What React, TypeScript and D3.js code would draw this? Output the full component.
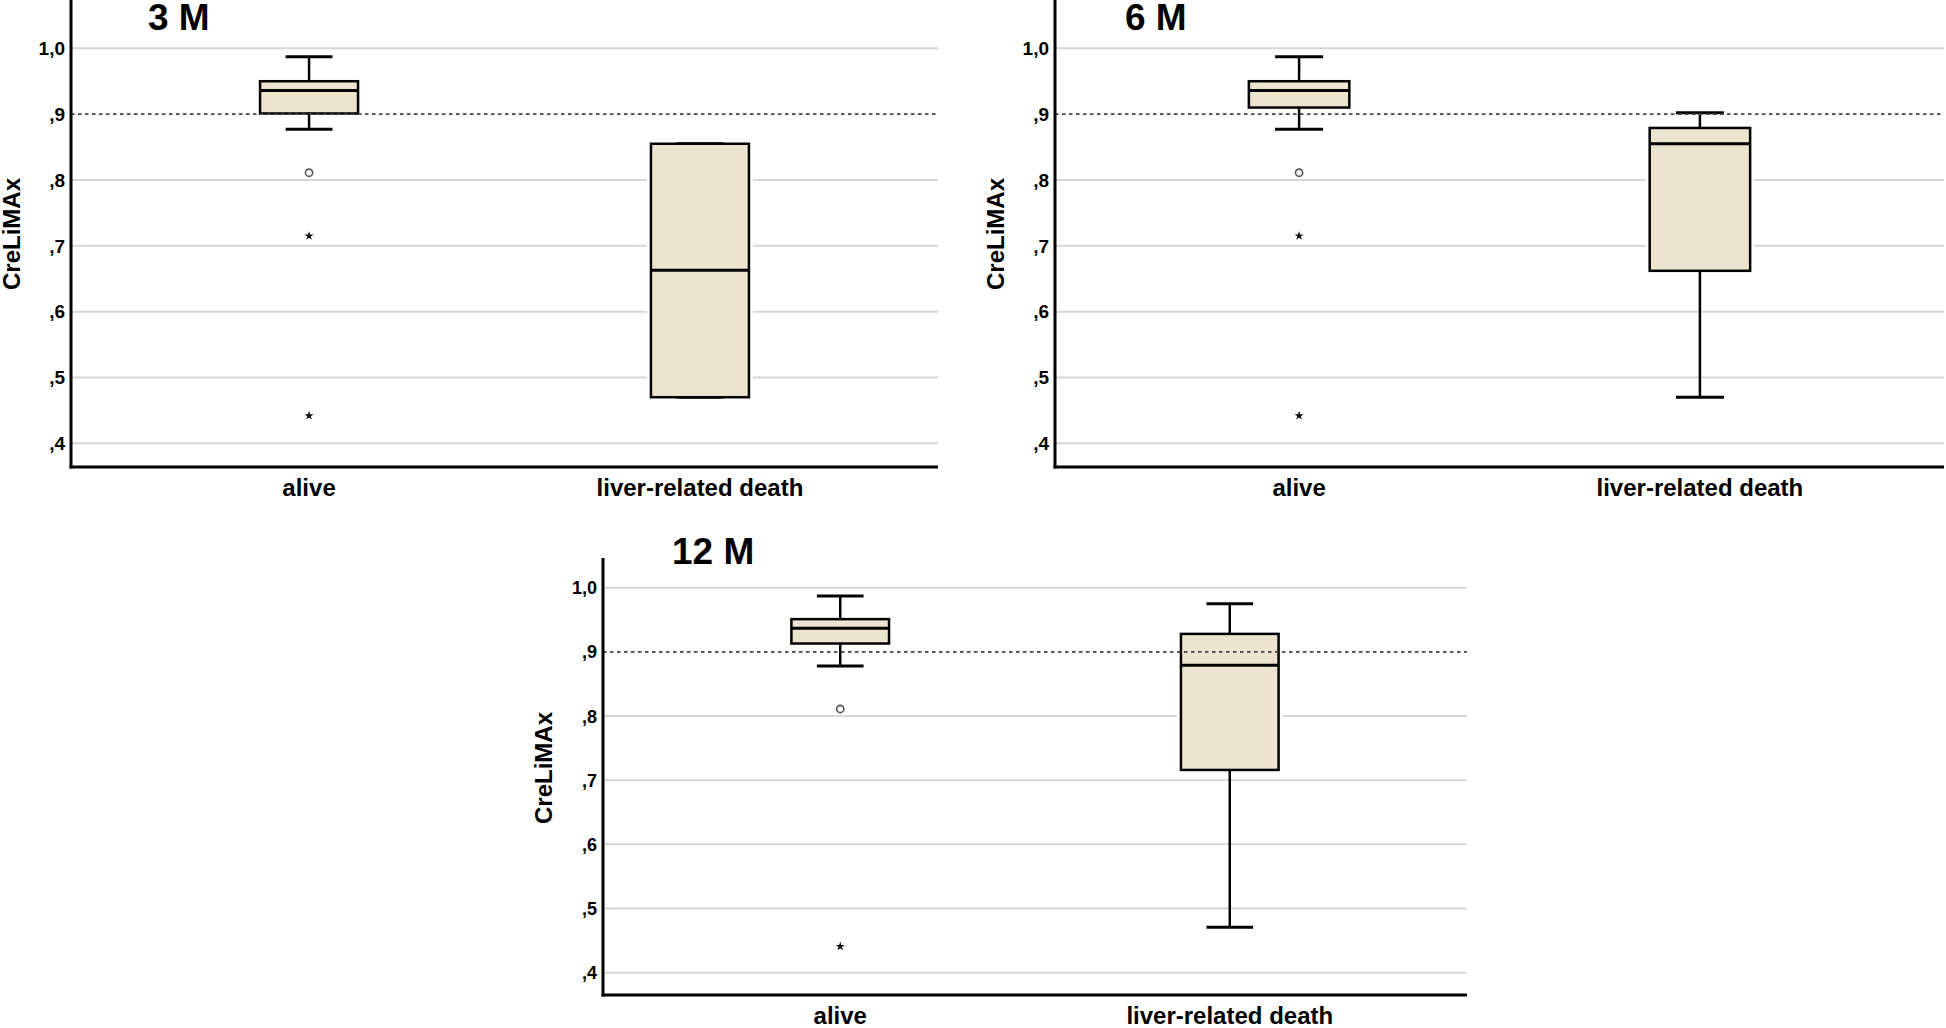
import React, { useEffect } from "react";
import * as d3 from "d3";

// ---------- data ----------
const categories = ["alive", "liver-related death"];
const panelTitles = ["3 M", "6 M", "12 M"];
const yTickValues = [0.4, 0.5, 0.6, 0.7, 0.8, 0.9, 1.0];
const yTickLabels = [",4", ",5", ",6", ",7", ",8", ",9", "1,0"];
const yAxisTitle = "CreLiMAx";
const cutoffValue = 0.9;

// [low whisker, Q1, median, Q3, high whisker] per category
const boxes3M = [
  [0.877, 0.901, 0.936, 0.95, 0.987],
  [0.47, 0.47, 0.663, 0.855, 0.855],
];
const boxes6M = [
  [0.877, 0.91, 0.936, 0.95, 0.987],
  [0.47, 0.662, 0.855, 0.879, 0.902],
];
const boxes12M = [
  [0.878, 0.913, 0.937, 0.951, 0.987],
  [0.471, 0.716, 0.879, 0.928, 0.975],
];

// outliers (circles) and extreme values (stars) per category
const outliers3M = [[0.811], []];
const extremes3M = [[0.715, 0.442], []];
const outliers6M = [[0.811], []];
const extremes6M = [[0.715, 0.442], []];
const outliers12M = [[0.811], []];
const extremes12M = [[0.441], []];

const panelBoxes = [boxes3M, boxes6M, boxes12M];
const panelOutliers = [outliers3M, outliers6M, outliers12M];
const panelExtremes = [extremes3M, extremes6M, extremes12M];

// ---------- layout ----------
const layouts = [
  { x0: 71, x1: 938, yTop: 0, yBot: 467, r0: 443.3, r1: 48.3, titleX: 148, titleY: 30, tickFs: 19 },
  { x0: 1055, x1: 1944, yTop: 0, yBot: 467, r0: 443.3, r1: 48.3, titleX: 1125, titleY: 30, tickFs: 19 },
  { x0: 603, x1: 1467, yTop: 558, yBot: 995, r0: 972.7, r1: 587.7, titleX: 672, titleY: 564, tickFs: 18 },
];

const FONT = "'Liberation Sans', Arial, Helvetica, sans-serif";
const BOX_FILL = "#ebe5cf";
const GRID = "#d6d6d6";

function Panel({ idx }: { idx: number }) {
  const L = layouts[idx];
  const y = d3.scaleLinear().domain([0.4, 1.0]).range([L.r0, L.r1]);
  const x = d3.scalePoint<string>().domain(categories).range([L.x0, L.x1]).padding(0.609);
  const W = L.x1 - L.x0;
  const bw = W * 0.113;
  const cw = W * 0.054;
  const star = d3.symbol().type(d3.symbolStar).size(26)();
  const boxes = panelBoxes[idx];

  return (
    <g>
      {/* gridlines */}
      {yTickValues.map((v, i) =>
        Math.abs(v - cutoffValue) < 1e-9 ? null : (
          <line key={"g" + i} x1={L.x0} x2={L.x1} y1={y(v)} y2={y(v)} stroke={GRID} strokeWidth={2} />
        )
      )}
      {/* tick labels */}
      {yTickValues.map((v, i) => (
        <text
          key={"t" + i}
          x={L.x0 - 6}
          y={y(v)}
          dy="0.36em"
          textAnchor="end"
          fontFamily={FONT}
          fontWeight="bold"
          fontSize={L.tickFs}
          fill="#000"
        >
          {yTickLabels[i]}
        </text>
      ))}
      {/* boxes */}
      {categories.map((c, ci) => {
        const [lo, q1, med, q3, hi] = boxes[ci];
        const cx = x(c) as number;
        return (
          <g key={"b" + ci}>
            <rect x={cx - bw / 2 - 4} y={y(q3) - 4} width={bw + 8} height={y(q1) - y(q3) + 8} fill="#fff" />
            <line x1={cx} x2={cx} y1={y(hi)} y2={y(q3)} stroke="#000" strokeWidth={2.5} />
            <line x1={cx} x2={cx} y1={y(q1)} y2={y(lo)} stroke="#000" strokeWidth={2.5} />
            <line x1={cx - cw / 2} x2={cx + cw / 2} y1={y(hi)} y2={y(hi)} stroke="#000" strokeWidth={3} />
            <line x1={cx - cw / 2} x2={cx + cw / 2} y1={y(lo)} y2={y(lo)} stroke="#000" strokeWidth={3} />
            <rect
              x={cx - bw / 2}
              y={y(q3)}
              width={bw}
              height={Math.max(0, y(q1) - y(q3))}
              fill={BOX_FILL}
              stroke="#000"
              strokeWidth={2.5}
            />
            <line x1={cx - bw / 2} x2={cx + bw / 2} y1={y(med)} y2={y(med)} stroke="#000" strokeWidth={3} />
            {panelOutliers[idx][ci].map((v, k) => (
              <circle key={"o" + k} cx={cx} cy={y(v)} r={3.6} fill="#fff" stroke="#555" strokeWidth={1.6} />
            ))}
            {panelExtremes[idx][ci].map((v, k) => (
              <path key={"e" + k} d={star as string} transform={`translate(${cx},${y(v)})`} fill="#111" />
            ))}
          </g>
        );
      })}
      {/* reference line */}
      <line
        x1={L.x0}
        x2={L.x1}
        y1={y(cutoffValue)}
        y2={y(cutoffValue)}
        stroke="#444"
        strokeWidth={1.8}
        strokeDasharray="3.5,3.5"
      />
      {/* axes */}
      <line x1={L.x0} x2={L.x0} y1={L.yTop} y2={L.yBot + 1.5} stroke="#000" strokeWidth={3} />
      <line x1={L.x0 - 1.5} x2={L.x1} y1={L.yBot} y2={L.yBot} stroke="#000" strokeWidth={3} />
      {/* category labels */}
      {categories.map((c, ci) => (
        <text
          key={"c" + ci}
          x={x(c) as number}
          y={L.yBot + 29}
          textAnchor="middle"
          fontFamily={FONT}
          fontWeight="bold"
          fontSize={24}
          fill="#000"
        >
          {c}
        </text>
      ))}
      {/* y axis title */}
      <text
        transform={`translate(${L.x0 - 51},${Math.round(y(0.7) - 12)}) rotate(-90)`}
        textAnchor="middle"
        fontFamily={FONT}
        fontWeight="bold"
        fontSize={24}
        fill="#000"
      >
        {yAxisTitle}
      </text>
      {/* panel title */}
      <text x={L.titleX} y={L.titleY} fontFamily={FONT} fontWeight="bold" fontSize={37} fill="#000">
        {panelTitles[idx]}
      </text>
    </g>
  );
}

export default function App() {
  useEffect(() => {
    document.body.style.margin = "0";
    document.body.style.overflow = "hidden";
  }, []);
  return (
    <svg
      width={1946}
      height={1028}
      viewBox="0 0 1946 1028"
      style={{ position: "absolute", left: 0, top: 0, background: "#fff", display: "block" }}
    >
      <rect x={0} y={0} width={1946} height={1028} fill="#fff" />
      {panelTitles.map((_, i) => (
        <Panel key={i} idx={i} />
      ))}
    </svg>
  );
}
